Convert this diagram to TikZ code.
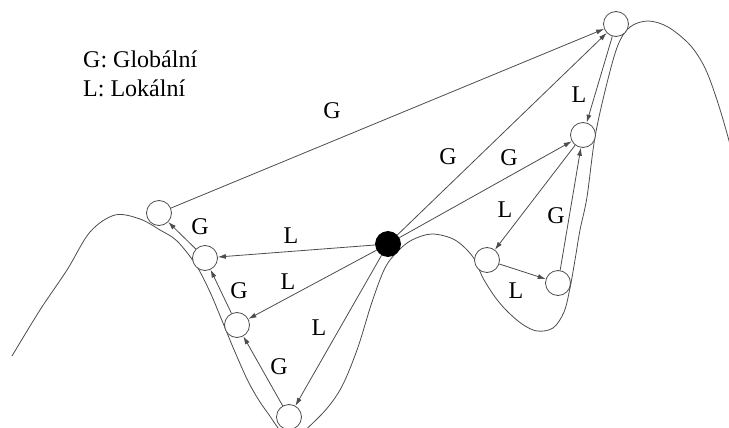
\documentclass[tikz,border=0pt]{standalone}
\usepackage{fontspec}
\setmainfont{Liberation Serif}
\usetikzlibrary{arrows.meta}
\tikzset{
  state/.style={circle, draw=black!70, fill=white, line width=0.8pt, minimum size=25pt, inner sep=0pt},
  start/.style={state, draw=black, fill=black},
  move/.style={draw=black!70, line width=0.8pt, -{Latex[length=8pt,width=5pt]}},
  tag/.style={inner sep=0pt, font=\fontsize{24}{28}\selectfont},
}

\begin{document}
\begin{tikzpicture}[x=1pt, y=-1pt]
\useasboundingbox (0,0) rectangle (729,428);

% the landscape
\draw[black!70, line width=0.8pt] plot[smooth, tension=0.55] coordinates {
  (12,356) (40,310) (67,270) (90,232) (115,215) (140,219) (160,230) (177,241)
  (196,265) (210,292) (223,323) (235,352) (250,385) (267,412) (290,438)
  (318,418) (340,390) (357,350) (372,302) (385,268) (398,251) (412,240)
  (432,234) (455,240) (473,257) (483,278) (495,297) (507,311) (522,324)
  (537,331) (553,328) (564,312) (570,288) (575,260) (580,230) (587,197)
  (595,137) (607,83) (618,45) (630,27) (648,21) (668,27) (690,45) (705,68)
  (717,100) (728,137) (735,165)};

% legend
\node[tag, anchor=base west] (legG) at (83,68) {G: Globální};
\node[tag, anchor=base west] (legL) at (83,96) {L: Lokální};

% states
\node[state] (top) at (616,24) {};
\node[state] (rhigh) at (583,135) {};
\node[start] (x0) at (388,244) {};
\node[state] (rpitl) at (487,260) {};
\node[state] (rpitr) at (558,283) {};
\node[state] (lhill) at (159,213) {};
\node[state] (lmid) at (205,258) {};
\node[state] (llow) at (237,325) {};
\node[state] (lbot) at (289,417) {};

% moves
\draw[move] (lhill) -- (top);
\draw[move] (x0) -- (top);
\draw[move] (x0) -- (rhigh);
\draw[move] (top) -- (rhigh);
\draw[move] (rhigh) -- (rpitl);
\draw[move] (rpitl) -- (rpitr);
\draw[move] (rpitr) -- (rhigh);
\draw[move] (x0) -- (lmid);
\draw[move] (x0) -- (llow);
\draw[move] (x0) -- (lbot);
\draw[move] (lbot) -- (llow);
\draw[move] (llow) -- (lmid);
\draw[move] (lmid) -- (lhill);

% labels
\node[tag] (gA) at (332,111) {G};
\node[tag] (gB) at (448,157) {G};
\node[tag] (gC) at (509,158) {G};
\node[tag] (lA) at (579,95) {L};
\node[tag] (lB) at (505,210) {L};
\node[tag] (gD) at (556,216) {G};
\node[tag] (lC) at (516,291) {L};
\node[tag] (gE) at (200,227) {G};
\node[tag] (lD) at (291,236) {L};
\node[tag] (gF) at (239,291) {G};
\node[tag] (lE) at (288,282) {L};
\node[tag] (lF) at (319,328) {L};
\node[tag] (gG) at (279,367) {G};

\end{tikzpicture}
\end{document}
